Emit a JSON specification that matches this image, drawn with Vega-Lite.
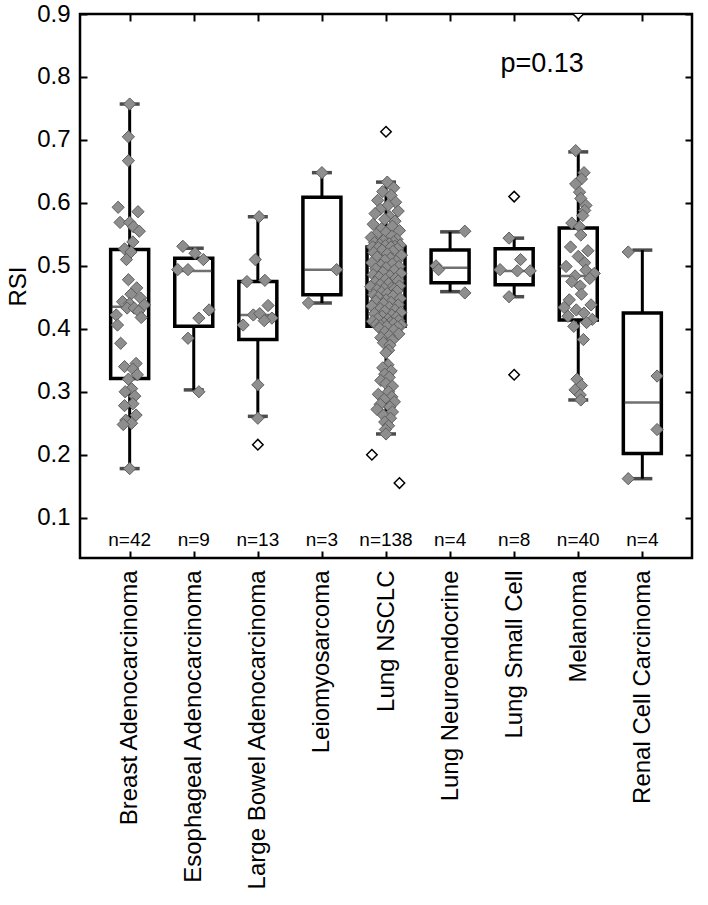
{
  "$schema": "https://vega.github.io/schema/vega-lite/v6.json",
  "width": 612,
  "height": 544,
  "autosize": "none",
  "padding": {"left": 80, "top": 14, "right": 16, "bottom": 347},
  "background": "white",
  "config": {
    "font": "Liberation Sans",
    "view": {"stroke": "black", "strokeWidth": 2.5},
    "axis": {"grid": false, "labelColor": "black", "titleColor": "black", "tickColor": "black", "domain": false, "zindex": 1}
  },
  "datasets": {
    "stats": [
      {"type": "Breast Adenocarcinoma", "lo": 0.178, "q1": 0.321, "med": 0.435, "q3": 0.526, "hi": 0.757, "nlab": "n=42"},
      {"type": "Esophageal Adenocarcinoma", "lo": 0.303, "q1": 0.404, "med": 0.492, "q3": 0.512, "hi": 0.528, "nlab": "n=9"},
      {"type": "Large Bowel Adenocarcinoma", "lo": 0.261, "q1": 0.383, "med": 0.422, "q3": 0.475, "hi": 0.578, "nlab": "n=13"},
      {"type": "Leiomyosarcoma", "lo": 0.441, "q1": 0.454, "med": 0.494, "q3": 0.609, "hi": 0.648, "nlab": "n=3"},
      {"type": "Lung NSCLC", "lo": 0.233, "q1": 0.404, "med": 0.462, "q3": 0.530, "hi": 0.633, "nlab": "n=138"},
      {"type": "Lung Neuroendocrine", "lo": 0.459, "q1": 0.473, "med": 0.497, "q3": 0.525, "hi": 0.554, "nlab": "n=4"},
      {"type": "Lung Small Cell", "lo": 0.451, "q1": 0.470, "med": 0.492, "q3": 0.527, "hi": 0.544, "nlab": "n=8"},
      {"type": "Melanoma", "lo": 0.287, "q1": 0.414, "med": 0.484, "q3": 0.560, "hi": 0.681, "nlab": "n=40"},
      {"type": "Renal Cell Carcinoma", "lo": 0.162, "q1": 0.202, "med": 0.283, "q3": 0.425, "hi": 0.525, "nlab": "n=4"}
    ],
    "annot": [{"type": "Lung Small Cell", "label": "p=0.13"}],
    "points": [
      {"type": "Breast Adenocarcinoma", "rsi": 0.757, "jitter": 0.0, "outlier": false},
      {"type": "Breast Adenocarcinoma", "rsi": 0.705, "jitter": -0.02, "outlier": false},
      {"type": "Breast Adenocarcinoma", "rsi": 0.667, "jitter": -0.02, "outlier": false},
      {"type": "Breast Adenocarcinoma", "rsi": 0.593, "jitter": -0.18, "outlier": false},
      {"type": "Breast Adenocarcinoma", "rsi": 0.586, "jitter": 0.13, "outlier": false},
      {"type": "Breast Adenocarcinoma", "rsi": 0.569, "jitter": -0.15, "outlier": false},
      {"type": "Breast Adenocarcinoma", "rsi": 0.569, "jitter": 0.0, "outlier": false},
      {"type": "Breast Adenocarcinoma", "rsi": 0.562, "jitter": 0.06, "outlier": false},
      {"type": "Breast Adenocarcinoma", "rsi": 0.555, "jitter": 0.15, "outlier": false},
      {"type": "Breast Adenocarcinoma", "rsi": 0.538, "jitter": 0.05, "outlier": false},
      {"type": "Breast Adenocarcinoma", "rsi": 0.527, "jitter": -0.08, "outlier": false},
      {"type": "Breast Adenocarcinoma", "rsi": 0.522, "jitter": 0.02, "outlier": false},
      {"type": "Breast Adenocarcinoma", "rsi": 0.510, "jitter": -0.05, "outlier": false},
      {"type": "Breast Adenocarcinoma", "rsi": 0.478, "jitter": -0.02, "outlier": false},
      {"type": "Breast Adenocarcinoma", "rsi": 0.465, "jitter": 0.11, "outlier": false},
      {"type": "Breast Adenocarcinoma", "rsi": 0.455, "jitter": 0.02, "outlier": false},
      {"type": "Breast Adenocarcinoma", "rsi": 0.449, "jitter": 0.17, "outlier": false},
      {"type": "Breast Adenocarcinoma", "rsi": 0.443, "jitter": -0.11, "outlier": false},
      {"type": "Breast Adenocarcinoma", "rsi": 0.440, "jitter": 0.0, "outlier": false},
      {"type": "Breast Adenocarcinoma", "rsi": 0.438, "jitter": 0.23, "outlier": false},
      {"type": "Breast Adenocarcinoma", "rsi": 0.433, "jitter": -0.04, "outlier": false},
      {"type": "Breast Adenocarcinoma", "rsi": 0.433, "jitter": 0.07, "outlier": false},
      {"type": "Breast Adenocarcinoma", "rsi": 0.428, "jitter": 0.14, "outlier": false},
      {"type": "Breast Adenocarcinoma", "rsi": 0.422, "jitter": -0.21, "outlier": false},
      {"type": "Breast Adenocarcinoma", "rsi": 0.418, "jitter": 0.18, "outlier": false},
      {"type": "Breast Adenocarcinoma", "rsi": 0.406, "jitter": -0.19, "outlier": false},
      {"type": "Breast Adenocarcinoma", "rsi": 0.377, "jitter": -0.14, "outlier": false},
      {"type": "Breast Adenocarcinoma", "rsi": 0.345, "jitter": 0.1, "outlier": false},
      {"type": "Breast Adenocarcinoma", "rsi": 0.340, "jitter": -0.08, "outlier": false},
      {"type": "Breast Adenocarcinoma", "rsi": 0.336, "jitter": 0.05, "outlier": false},
      {"type": "Breast Adenocarcinoma", "rsi": 0.327, "jitter": 0.12, "outlier": false},
      {"type": "Breast Adenocarcinoma", "rsi": 0.320, "jitter": -0.02, "outlier": false},
      {"type": "Breast Adenocarcinoma", "rsi": 0.305, "jitter": 0.03, "outlier": false},
      {"type": "Breast Adenocarcinoma", "rsi": 0.300, "jitter": -0.07, "outlier": false},
      {"type": "Breast Adenocarcinoma", "rsi": 0.293, "jitter": 0.08, "outlier": false},
      {"type": "Breast Adenocarcinoma", "rsi": 0.281, "jitter": 0.05, "outlier": false},
      {"type": "Breast Adenocarcinoma", "rsi": 0.278, "jitter": -0.08, "outlier": false},
      {"type": "Breast Adenocarcinoma", "rsi": 0.263, "jitter": 0.1, "outlier": false},
      {"type": "Breast Adenocarcinoma", "rsi": 0.255, "jitter": -0.06, "outlier": false},
      {"type": "Breast Adenocarcinoma", "rsi": 0.250, "jitter": 0.03, "outlier": false},
      {"type": "Breast Adenocarcinoma", "rsi": 0.248, "jitter": -0.1, "outlier": false},
      {"type": "Breast Adenocarcinoma", "rsi": 0.178, "jitter": 0.0, "outlier": false},
      {"type": "Esophageal Adenocarcinoma", "rsi": 0.531, "jitter": -0.17, "outlier": false},
      {"type": "Esophageal Adenocarcinoma", "rsi": 0.520, "jitter": 0.02, "outlier": false},
      {"type": "Esophageal Adenocarcinoma", "rsi": 0.510, "jitter": 0.15, "outlier": false},
      {"type": "Esophageal Adenocarcinoma", "rsi": 0.494, "jitter": -0.25, "outlier": false},
      {"type": "Esophageal Adenocarcinoma", "rsi": 0.494, "jitter": -0.09, "outlier": false},
      {"type": "Esophageal Adenocarcinoma", "rsi": 0.430, "jitter": 0.24, "outlier": false},
      {"type": "Esophageal Adenocarcinoma", "rsi": 0.417, "jitter": 0.08, "outlier": false},
      {"type": "Esophageal Adenocarcinoma", "rsi": 0.385, "jitter": -0.09, "outlier": false},
      {"type": "Esophageal Adenocarcinoma", "rsi": 0.300, "jitter": 0.08, "outlier": false},
      {"type": "Large Bowel Adenocarcinoma", "rsi": 0.578, "jitter": 0.02, "outlier": false},
      {"type": "Large Bowel Adenocarcinoma", "rsi": 0.510, "jitter": -0.04, "outlier": false},
      {"type": "Large Bowel Adenocarcinoma", "rsi": 0.475, "jitter": -0.17, "outlier": false},
      {"type": "Large Bowel Adenocarcinoma", "rsi": 0.477, "jitter": 0.11, "outlier": false},
      {"type": "Large Bowel Adenocarcinoma", "rsi": 0.437, "jitter": 0.16, "outlier": false},
      {"type": "Large Bowel Adenocarcinoma", "rsi": 0.422, "jitter": -0.07, "outlier": false},
      {"type": "Large Bowel Adenocarcinoma", "rsi": 0.424, "jitter": 0.03, "outlier": false},
      {"type": "Large Bowel Adenocarcinoma", "rsi": 0.417, "jitter": 0.22, "outlier": false},
      {"type": "Large Bowel Adenocarcinoma", "rsi": 0.413, "jitter": 0.1, "outlier": false},
      {"type": "Large Bowel Adenocarcinoma", "rsi": 0.406, "jitter": -0.23, "outlier": false},
      {"type": "Large Bowel Adenocarcinoma", "rsi": 0.311, "jitter": 0.0, "outlier": false},
      {"type": "Large Bowel Adenocarcinoma", "rsi": 0.258, "jitter": 0.0, "outlier": false},
      {"type": "Large Bowel Adenocarcinoma", "rsi": 0.216, "jitter": 0.0, "outlier": true},
      {"type": "Leiomyosarcoma", "rsi": 0.648, "jitter": 0.0, "outlier": false},
      {"type": "Leiomyosarcoma", "rsi": 0.494, "jitter": 0.23, "outlier": false},
      {"type": "Leiomyosarcoma", "rsi": 0.441, "jitter": -0.21, "outlier": false},
      {"type": "Lung NSCLC", "rsi": 0.713, "jitter": 0.0, "outlier": true},
      {"type": "Lung NSCLC", "rsi": 0.200, "jitter": -0.22, "outlier": true},
      {"type": "Lung NSCLC", "rsi": 0.155, "jitter": 0.21, "outlier": true},
      {"type": "Lung NSCLC", "rsi": 0.633, "jitter": 0.02, "outlier": false},
      {"type": "Lung NSCLC", "rsi": 0.624, "jitter": 0.12, "outlier": false},
      {"type": "Lung NSCLC", "rsi": 0.618, "jitter": -0.05, "outlier": false},
      {"type": "Lung NSCLC", "rsi": 0.612, "jitter": 0.08, "outlier": false},
      {"type": "Lung NSCLC", "rsi": 0.604, "jitter": -0.13, "outlier": false},
      {"type": "Lung NSCLC", "rsi": 0.601, "jitter": 0.15, "outlier": false},
      {"type": "Lung NSCLC", "rsi": 0.596, "jitter": 0.03, "outlier": false},
      {"type": "Lung NSCLC", "rsi": 0.590, "jitter": -0.09, "outlier": false},
      {"type": "Lung NSCLC", "rsi": 0.587, "jitter": 0.19, "outlier": false},
      {"type": "Lung NSCLC", "rsi": 0.583, "jitter": -0.17, "outlier": false},
      {"type": "Lung NSCLC", "rsi": 0.578, "jitter": 0.06, "outlier": false},
      {"type": "Lung NSCLC", "rsi": 0.574, "jitter": -0.02, "outlier": false},
      {"type": "Lung NSCLC", "rsi": 0.571, "jitter": 0.14, "outlier": false},
      {"type": "Lung NSCLC", "rsi": 0.566, "jitter": -0.2, "outlier": false},
      {"type": "Lung NSCLC", "rsi": 0.563, "jitter": 0.1, "outlier": false},
      {"type": "Lung NSCLC", "rsi": 0.559, "jitter": -0.07, "outlier": false},
      {"type": "Lung NSCLC", "rsi": 0.556, "jitter": 0.21, "outlier": false},
      {"type": "Lung NSCLC", "rsi": 0.553, "jitter": 0.0, "outlier": false},
      {"type": "Lung NSCLC", "rsi": 0.550, "jitter": -0.15, "outlier": false},
      {"type": "Lung NSCLC", "rsi": 0.547, "jitter": 0.09, "outlier": false},
      {"type": "Lung NSCLC", "rsi": 0.545, "jitter": -0.23, "outlier": false},
      {"type": "Lung NSCLC", "rsi": 0.542, "jitter": 0.17, "outlier": false},
      {"type": "Lung NSCLC", "rsi": 0.540, "jitter": -0.04, "outlier": false},
      {"type": "Lung NSCLC", "rsi": 0.538, "jitter": 0.12, "outlier": false},
      {"type": "Lung NSCLC", "rsi": 0.537, "jitter": -0.18, "outlier": false},
      {"type": "Lung NSCLC", "rsi": 0.535, "jitter": 0.05, "outlier": false},
      {"type": "Lung NSCLC", "rsi": 0.534, "jitter": -0.1, "outlier": false},
      {"type": "Lung NSCLC", "rsi": 0.533, "jitter": 0.22, "outlier": false},
      {"type": "Lung NSCLC", "rsi": 0.532, "jitter": -0.01, "outlier": false},
      {"type": "Lung NSCLC", "rsi": 0.531, "jitter": 0.14, "outlier": false},
      {"type": "Lung NSCLC", "rsi": 0.530, "jitter": -0.21, "outlier": false},
      {"type": "Lung NSCLC", "rsi": 0.530, "jitter": 0.08, "outlier": false},
      {"type": "Lung NSCLC", "rsi": 0.529, "jitter": -0.12, "outlier": false},
      {"type": "Lung NSCLC", "rsi": 0.527, "jitter": 0.18, "outlier": false},
      {"type": "Lung NSCLC", "rsi": 0.525, "jitter": -0.06, "outlier": false},
      {"type": "Lung NSCLC", "rsi": 0.523, "jitter": 0.11, "outlier": false},
      {"type": "Lung NSCLC", "rsi": 0.521, "jitter": -0.19, "outlier": false},
      {"type": "Lung NSCLC", "rsi": 0.519, "jitter": 0.02, "outlier": false},
      {"type": "Lung NSCLC", "rsi": 0.517, "jitter": 0.24, "outlier": false},
      {"type": "Lung NSCLC", "rsi": 0.514, "jitter": -0.14, "outlier": false},
      {"type": "Lung NSCLC", "rsi": 0.512, "jitter": 0.07, "outlier": false},
      {"type": "Lung NSCLC", "rsi": 0.509, "jitter": -0.02, "outlier": false},
      {"type": "Lung NSCLC", "rsi": 0.507, "jitter": 0.16, "outlier": false},
      {"type": "Lung NSCLC", "rsi": 0.505, "jitter": -0.22, "outlier": false},
      {"type": "Lung NSCLC", "rsi": 0.503, "jitter": 0.1, "outlier": false},
      {"type": "Lung NSCLC", "rsi": 0.501, "jitter": -0.08, "outlier": false},
      {"type": "Lung NSCLC", "rsi": 0.499, "jitter": 0.2, "outlier": false},
      {"type": "Lung NSCLC", "rsi": 0.497, "jitter": 0.0, "outlier": false},
      {"type": "Lung NSCLC", "rsi": 0.495, "jitter": -0.16, "outlier": false},
      {"type": "Lung NSCLC", "rsi": 0.493, "jitter": 0.13, "outlier": false},
      {"type": "Lung NSCLC", "rsi": 0.490, "jitter": -0.05, "outlier": false},
      {"type": "Lung NSCLC", "rsi": 0.488, "jitter": 0.23, "outlier": false},
      {"type": "Lung NSCLC", "rsi": 0.486, "jitter": -0.2, "outlier": false},
      {"type": "Lung NSCLC", "rsi": 0.484, "jitter": 0.06, "outlier": false},
      {"type": "Lung NSCLC", "rsi": 0.482, "jitter": -0.11, "outlier": false},
      {"type": "Lung NSCLC", "rsi": 0.480, "jitter": 0.15, "outlier": false},
      {"type": "Lung NSCLC", "rsi": 0.478, "jitter": -0.01, "outlier": false},
      {"type": "Lung NSCLC", "rsi": 0.476, "jitter": 0.19, "outlier": false},
      {"type": "Lung NSCLC", "rsi": 0.474, "jitter": -0.17, "outlier": false},
      {"type": "Lung NSCLC", "rsi": 0.472, "jitter": 0.04, "outlier": false},
      {"type": "Lung NSCLC", "rsi": 0.470, "jitter": -0.09, "outlier": false},
      {"type": "Lung NSCLC", "rsi": 0.468, "jitter": 0.21, "outlier": false},
      {"type": "Lung NSCLC", "rsi": 0.467, "jitter": -0.24, "outlier": false},
      {"type": "Lung NSCLC", "rsi": 0.465, "jitter": 0.09, "outlier": false},
      {"type": "Lung NSCLC", "rsi": 0.464, "jitter": -0.03, "outlier": false},
      {"type": "Lung NSCLC", "rsi": 0.463, "jitter": 0.13, "outlier": false},
      {"type": "Lung NSCLC", "rsi": 0.462, "jitter": -0.14, "outlier": false},
      {"type": "Lung NSCLC", "rsi": 0.460, "jitter": 0.17, "outlier": false},
      {"type": "Lung NSCLC", "rsi": 0.458, "jitter": -0.07, "outlier": false},
      {"type": "Lung NSCLC", "rsi": 0.456, "jitter": 0.02, "outlier": false},
      {"type": "Lung NSCLC", "rsi": 0.454, "jitter": -0.19, "outlier": false},
      {"type": "Lung NSCLC", "rsi": 0.452, "jitter": 0.11, "outlier": false},
      {"type": "Lung NSCLC", "rsi": 0.450, "jitter": -0.12, "outlier": false},
      {"type": "Lung NSCLC", "rsi": 0.448, "jitter": 0.22, "outlier": false},
      {"type": "Lung NSCLC", "rsi": 0.446, "jitter": 0.0, "outlier": false},
      {"type": "Lung NSCLC", "rsi": 0.444, "jitter": -0.16, "outlier": false},
      {"type": "Lung NSCLC", "rsi": 0.442, "jitter": 0.08, "outlier": false},
      {"type": "Lung NSCLC", "rsi": 0.440, "jitter": -0.04, "outlier": false},
      {"type": "Lung NSCLC", "rsi": 0.438, "jitter": 0.19, "outlier": false},
      {"type": "Lung NSCLC", "rsi": 0.436, "jitter": -0.22, "outlier": false},
      {"type": "Lung NSCLC", "rsi": 0.434, "jitter": 0.05, "outlier": false},
      {"type": "Lung NSCLC", "rsi": 0.432, "jitter": -0.09, "outlier": false},
      {"type": "Lung NSCLC", "rsi": 0.430, "jitter": 0.14, "outlier": false},
      {"type": "Lung NSCLC", "rsi": 0.428, "jitter": -0.02, "outlier": false},
      {"type": "Lung NSCLC", "rsi": 0.426, "jitter": 0.23, "outlier": false},
      {"type": "Lung NSCLC", "rsi": 0.424, "jitter": -0.18, "outlier": false},
      {"type": "Lung NSCLC", "rsi": 0.422, "jitter": 0.09, "outlier": false},
      {"type": "Lung NSCLC", "rsi": 0.420, "jitter": -0.06, "outlier": false},
      {"type": "Lung NSCLC", "rsi": 0.418, "jitter": 0.16, "outlier": false},
      {"type": "Lung NSCLC", "rsi": 0.416, "jitter": -0.13, "outlier": false},
      {"type": "Lung NSCLC", "rsi": 0.415, "jitter": 0.03, "outlier": false},
      {"type": "Lung NSCLC", "rsi": 0.413, "jitter": 0.2, "outlier": false},
      {"type": "Lung NSCLC", "rsi": 0.412, "jitter": -0.21, "outlier": false},
      {"type": "Lung NSCLC", "rsi": 0.410, "jitter": 0.07, "outlier": false},
      {"type": "Lung NSCLC", "rsi": 0.409, "jitter": -0.03, "outlier": false},
      {"type": "Lung NSCLC", "rsi": 0.408, "jitter": 0.12, "outlier": false},
      {"type": "Lung NSCLC", "rsi": 0.407, "jitter": -0.15, "outlier": false},
      {"type": "Lung NSCLC", "rsi": 0.406, "jitter": 0.24, "outlier": false},
      {"type": "Lung NSCLC", "rsi": 0.405, "jitter": -0.08, "outlier": false},
      {"type": "Lung NSCLC", "rsi": 0.404, "jitter": 0.01, "outlier": false},
      {"type": "Lung NSCLC", "rsi": 0.403, "jitter": 0.18, "outlier": false},
      {"type": "Lung NSCLC", "rsi": 0.401, "jitter": -0.1, "outlier": false},
      {"type": "Lung NSCLC", "rsi": 0.398, "jitter": 0.12, "outlier": false},
      {"type": "Lung NSCLC", "rsi": 0.395, "jitter": -0.02, "outlier": false},
      {"type": "Lung NSCLC", "rsi": 0.392, "jitter": 0.2, "outlier": false},
      {"type": "Lung NSCLC", "rsi": 0.389, "jitter": 0.05, "outlier": false},
      {"type": "Lung NSCLC", "rsi": 0.386, "jitter": -0.08, "outlier": false},
      {"type": "Lung NSCLC", "rsi": 0.382, "jitter": 0.1, "outlier": false},
      {"type": "Lung NSCLC", "rsi": 0.378, "jitter": -0.04, "outlier": false},
      {"type": "Lung NSCLC", "rsi": 0.374, "jitter": 0.06, "outlier": false},
      {"type": "Lung NSCLC", "rsi": 0.366, "jitter": 0.04, "outlier": false},
      {"type": "Lung NSCLC", "rsi": 0.362, "jitter": 0.0, "outlier": false},
      {"type": "Lung NSCLC", "rsi": 0.343, "jitter": 0.03, "outlier": false},
      {"type": "Lung NSCLC", "rsi": 0.338, "jitter": -0.05, "outlier": false},
      {"type": "Lung NSCLC", "rsi": 0.333, "jitter": 0.08, "outlier": false},
      {"type": "Lung NSCLC", "rsi": 0.328, "jitter": -0.02, "outlier": false},
      {"type": "Lung NSCLC", "rsi": 0.323, "jitter": 0.05, "outlier": false},
      {"type": "Lung NSCLC", "rsi": 0.318, "jitter": -0.08, "outlier": false},
      {"type": "Lung NSCLC", "rsi": 0.313, "jitter": 0.0, "outlier": false},
      {"type": "Lung NSCLC", "rsi": 0.309, "jitter": 0.1, "outlier": false},
      {"type": "Lung NSCLC", "rsi": 0.300, "jitter": 0.04, "outlier": false},
      {"type": "Lung NSCLC", "rsi": 0.296, "jitter": -0.12, "outlier": false},
      {"type": "Lung NSCLC", "rsi": 0.292, "jitter": 0.09, "outlier": false},
      {"type": "Lung NSCLC", "rsi": 0.288, "jitter": -0.03, "outlier": false},
      {"type": "Lung NSCLC", "rsi": 0.284, "jitter": 0.13, "outlier": false},
      {"type": "Lung NSCLC", "rsi": 0.280, "jitter": -0.09, "outlier": false},
      {"type": "Lung NSCLC", "rsi": 0.276, "jitter": 0.06, "outlier": false},
      {"type": "Lung NSCLC", "rsi": 0.272, "jitter": -0.14, "outlier": false},
      {"type": "Lung NSCLC", "rsi": 0.268, "jitter": 0.1, "outlier": false},
      {"type": "Lung NSCLC", "rsi": 0.263, "jitter": -0.04, "outlier": false},
      {"type": "Lung NSCLC", "rsi": 0.258, "jitter": 0.07, "outlier": false},
      {"type": "Lung NSCLC", "rsi": 0.252, "jitter": -0.02, "outlier": false},
      {"type": "Lung NSCLC", "rsi": 0.246, "jitter": 0.04, "outlier": false},
      {"type": "Lung NSCLC", "rsi": 0.240, "jitter": -0.01, "outlier": false},
      {"type": "Lung NSCLC", "rsi": 0.233, "jitter": 0.0, "outlier": false},
      {"type": "Lung Neuroendocrine", "rsi": 0.555, "jitter": 0.23, "outlier": false},
      {"type": "Lung Neuroendocrine", "rsi": 0.500, "jitter": -0.22, "outlier": false},
      {"type": "Lung Neuroendocrine", "rsi": 0.494, "jitter": -0.18, "outlier": false},
      {"type": "Lung Neuroendocrine", "rsi": 0.457, "jitter": 0.23, "outlier": false},
      {"type": "Lung Small Cell", "rsi": 0.610, "jitter": 0.0, "outlier": true},
      {"type": "Lung Small Cell", "rsi": 0.544, "jitter": -0.08, "outlier": false},
      {"type": "Lung Small Cell", "rsi": 0.510, "jitter": 0.1, "outlier": false},
      {"type": "Lung Small Cell", "rsi": 0.494, "jitter": -0.22, "outlier": false},
      {"type": "Lung Small Cell", "rsi": 0.492, "jitter": 0.05, "outlier": false},
      {"type": "Lung Small Cell", "rsi": 0.492, "jitter": 0.25, "outlier": false},
      {"type": "Lung Small Cell", "rsi": 0.451, "jitter": -0.08, "outlier": false},
      {"type": "Lung Small Cell", "rsi": 0.327, "jitter": 0.0, "outlier": true},
      {"type": "Melanoma", "rsi": 0.900, "jitter": 0.0, "outlier": true},
      {"type": "Melanoma", "rsi": 0.683, "jitter": -0.04, "outlier": false},
      {"type": "Melanoma", "rsi": 0.648, "jitter": 0.09, "outlier": false},
      {"type": "Melanoma", "rsi": 0.638, "jitter": 0.05, "outlier": false},
      {"type": "Melanoma", "rsi": 0.630, "jitter": -0.04, "outlier": false},
      {"type": "Melanoma", "rsi": 0.617, "jitter": 0.02, "outlier": false},
      {"type": "Melanoma", "rsi": 0.607, "jitter": 0.04, "outlier": false},
      {"type": "Melanoma", "rsi": 0.596, "jitter": 0.12, "outlier": false},
      {"type": "Melanoma", "rsi": 0.588, "jitter": 0.1, "outlier": false},
      {"type": "Melanoma", "rsi": 0.580, "jitter": 0.07, "outlier": false},
      {"type": "Melanoma", "rsi": 0.568, "jitter": -0.1, "outlier": false},
      {"type": "Melanoma", "rsi": 0.562, "jitter": 0.02, "outlier": false},
      {"type": "Melanoma", "rsi": 0.549, "jitter": 0.04, "outlier": false},
      {"type": "Melanoma", "rsi": 0.530, "jitter": -0.12, "outlier": false},
      {"type": "Melanoma", "rsi": 0.524, "jitter": 0.15, "outlier": false},
      {"type": "Melanoma", "rsi": 0.515, "jitter": 0.0, "outlier": false},
      {"type": "Melanoma", "rsi": 0.505, "jitter": 0.1, "outlier": false},
      {"type": "Melanoma", "rsi": 0.499, "jitter": -0.19, "outlier": false},
      {"type": "Melanoma", "rsi": 0.493, "jitter": 0.12, "outlier": false},
      {"type": "Melanoma", "rsi": 0.488, "jitter": 0.25, "outlier": false},
      {"type": "Melanoma", "rsi": 0.484, "jitter": -0.05, "outlier": false},
      {"type": "Melanoma", "rsi": 0.480, "jitter": 0.18, "outlier": false},
      {"type": "Melanoma", "rsi": 0.475, "jitter": -0.1, "outlier": false},
      {"type": "Melanoma", "rsi": 0.468, "jitter": 0.03, "outlier": false},
      {"type": "Melanoma", "rsi": 0.455, "jitter": 0.05, "outlier": false},
      {"type": "Melanoma", "rsi": 0.446, "jitter": -0.14, "outlier": false},
      {"type": "Melanoma", "rsi": 0.438, "jitter": 0.2, "outlier": false},
      {"type": "Melanoma", "rsi": 0.434, "jitter": -0.22, "outlier": false},
      {"type": "Melanoma", "rsi": 0.430, "jitter": -0.03, "outlier": false},
      {"type": "Melanoma", "rsi": 0.425, "jitter": 0.09, "outlier": false},
      {"type": "Melanoma", "rsi": 0.420, "jitter": -0.16, "outlier": false},
      {"type": "Melanoma", "rsi": 0.415, "jitter": 0.22, "outlier": false},
      {"type": "Melanoma", "rsi": 0.410, "jitter": 0.13, "outlier": false},
      {"type": "Melanoma", "rsi": 0.404, "jitter": -0.07, "outlier": false},
      {"type": "Melanoma", "rsi": 0.383, "jitter": 0.08, "outlier": false},
      {"type": "Melanoma", "rsi": 0.320, "jitter": -0.02, "outlier": false},
      {"type": "Melanoma", "rsi": 0.310, "jitter": 0.05, "outlier": false},
      {"type": "Melanoma", "rsi": 0.303, "jitter": -0.05, "outlier": false},
      {"type": "Melanoma", "rsi": 0.295, "jitter": 0.03, "outlier": false},
      {"type": "Melanoma", "rsi": 0.287, "jitter": 0.04, "outlier": false},
      {"type": "Renal Cell Carcinoma", "rsi": 0.522, "jitter": -0.22, "outlier": false},
      {"type": "Renal Cell Carcinoma", "rsi": 0.325, "jitter": 0.23, "outlier": false},
      {"type": "Renal Cell Carcinoma", "rsi": 0.240, "jitter": 0.23, "outlier": false},
      {"type": "Renal Cell Carcinoma", "rsi": 0.162, "jitter": -0.22, "outlier": false}
    ]
  },
  "resolve": {"axis": {"x": "independent", "y": "independent"}},
  "layer": [
    {
      "data": {"name": "stats"},
      "mark": {"type": "rule", "color": "black", "strokeWidth": 3},
      "encoding": {
        "x": {"field": "type", "type": "nominal", "sort": null,
              "scale": {"type": "point", "padding": 0.775},
              "axis": {"orient": "bottom", "title": null, "labelAngle": -90, "labelFontSize": 24, "labelLimit": 0, "labelColor": "black", "offset": -7, "tickSize": 7, "tickWidth": 2, "labelPadding": 12}},
        "y": {"field": "lo", "type": "quantitative",
              "scale": {"domain": [0.036, 0.9], "nice": false, "zero": false},
              "axis": {"orient": "left", "title": "RSI", "titleFontSize": 24, "titleFontWeight": "normal", "titlePadding": 6, "values": [0.1, 0.2, 0.3, 0.4, 0.5, 0.6, 0.7, 0.8, 0.9], "format": ".1f", "labelFontSize": 24, "offset": -7, "tickSize": 7, "tickWidth": 2, "labelPadding": 10}},
        "y2": {"field": "q1"}
      }
    },
    {
      "data": {"name": "stats"},
      "mark": {"type": "rule", "color": "black", "strokeWidth": 3},
      "encoding": {
        "x": {"field": "type", "type": "nominal", "sort": null,
              "axis": {"orient": "top", "title": null, "labels": false, "offset": -7, "tickSize": 7, "tickWidth": 2}},
        "y": {"field": "q3", "type": "quantitative",
              "axis": {"orient": "right", "title": null, "labels": false, "values": [0.1, 0.2, 0.3, 0.4, 0.5, 0.6, 0.7, 0.8, 0.9], "offset": -7, "tickSize": 7, "tickWidth": 2}},
        "y2": {"field": "hi"}
      }
    },
    {
      "data": {"name": "stats"},
      "mark": {"type": "tick", "color": "black", "size": 20, "thickness": 3.5},
      "encoding": {
        "x": {"field": "type", "type": "nominal", "sort": null, "axis": null},
        "y": {"field": "lo", "type": "quantitative", "axis": null}
      }
    },
    {
      "data": {"name": "stats"},
      "mark": {"type": "tick", "color": "black", "size": 20, "thickness": 3.5},
      "encoding": {
        "x": {"field": "type", "type": "nominal", "sort": null, "axis": null},
        "y": {"field": "hi", "type": "quantitative", "axis": null}
      }
    },
    {
      "data": {"name": "stats"},
      "mark": {"type": "bar", "width": 38, "fill": "white", "fillOpacity": 0, "stroke": "black", "strokeWidth": 3.5},
      "encoding": {
        "x": {"field": "type", "type": "nominal", "sort": null, "axis": null},
        "y": {"field": "q1", "type": "quantitative", "axis": null},
        "y2": {"field": "q3"}
      }
    },
    {
      "data": {"name": "stats"},
      "mark": {"type": "tick", "color": "#333333", "size": 36, "thickness": 2.5},
      "encoding": {
        "x": {"field": "type", "type": "nominal", "sort": null, "axis": null},
        "y": {"field": "med", "type": "quantitative", "axis": null}
      }
    },
    {
      "data": {"name": "points"},
      "transform": [{"filter": "!datum.outlier"}],
      "mark": {"type": "point", "shape": "diamond", "size": 150, "filled": true, "fill": "#8e8e8e", "stroke": "#5e5e5e", "strokeWidth": 1, "opacity": 1},
      "encoding": {
        "x": {"field": "type", "type": "nominal", "sort": null, "axis": null},
        "xOffset": {"field": "jitter", "type": "quantitative", "scale": {"domain": [-1, 1], "range": [-64.08, 64.08]}},
        "y": {"field": "rsi", "type": "quantitative", "axis": null}
      }
    },
    {
      "data": {"name": "points"},
      "transform": [{"filter": "datum.outlier"}],
      "mark": {"type": "point", "shape": "diamond", "size": 110, "filled": true, "fill": "white", "stroke": "black", "strokeWidth": 1.5, "opacity": 1, "clip": true},
      "encoding": {
        "x": {"field": "type", "type": "nominal", "sort": null, "axis": null},
        "xOffset": {"field": "jitter", "type": "quantitative", "scale": {"domain": [-1, 1], "range": [-64.08, 64.08]}},
        "y": {"field": "rsi", "type": "quantitative", "axis": null}
      }
    },
    {
      "data": {"name": "stats"},
      "mark": {"type": "text", "fontSize": 19, "color": "black", "baseline": "alphabetic", "align": "center"},
      "encoding": {
        "x": {"field": "type", "type": "nominal", "sort": null, "axis": null},
        "y": {"datum": 0.0545, "type": "quantitative", "axis": null},
        "text": {"field": "nlab"}
      }
    },
    {
      "data": {"name": "annot"},
      "mark": {"type": "text", "fontSize": 27, "color": "black", "baseline": "alphabetic", "align": "center", "dx": 28},
      "encoding": {
        "x": {"field": "type", "type": "nominal", "sort": null, "axis": null},
        "y": {"datum": 0.808, "type": "quantitative", "axis": null},
        "text": {"field": "label"}
      }
    }
  ]
}
